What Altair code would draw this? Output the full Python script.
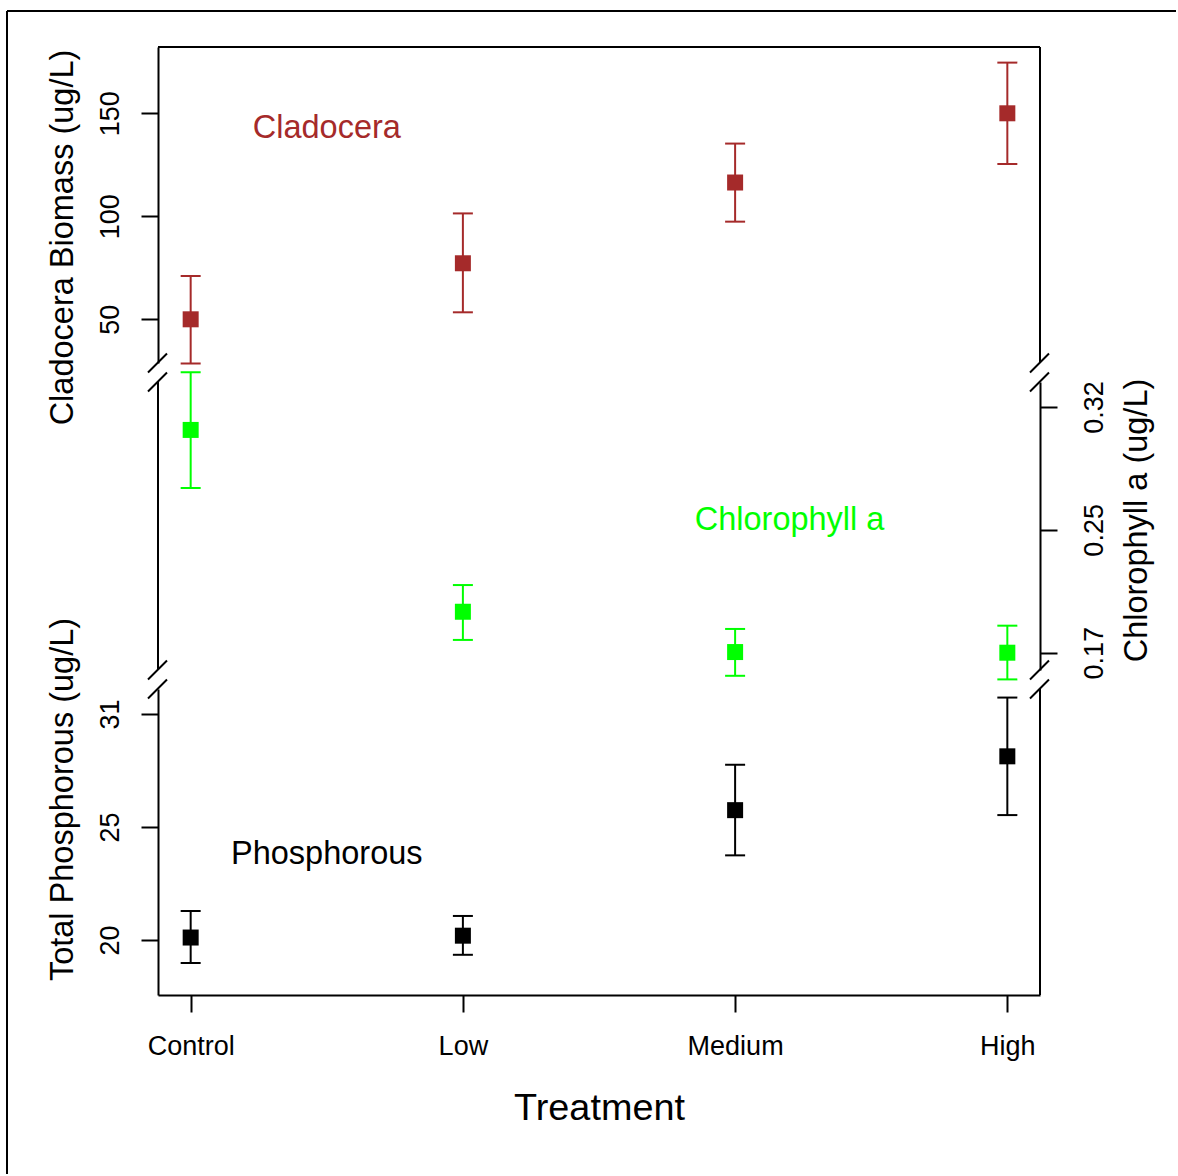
import json
import altair as alt
import pandas as pd

# ---------------- data ----------------
categories = ["Control", "Low", "Medium", "High"]

clado_mean = [50.0, 77.2, 116.4, 150.0]
clado_lo = [28.5, 53.4, 97.4, 125.4]
clado_hi = [71.0, 101.4, 135.3, 174.6]

chl_mean = [0.306, 0.195, 0.1704, 0.170]
chl_lo = [0.2706, 0.1778, 0.1559, 0.1537]
chl_hi = [0.3412, 0.2113, 0.1845, 0.1865]

tp_mean = [20.12, 20.21, 26.32, 28.94]
tp_lo = [18.88, 19.28, 24.12, 26.08]
tp_hi = [21.41, 21.17, 28.53, 31.80]

clado_ticks = [50, 100, 150]
clado_tick_labels = ["50", "100", "150"]
chl_ticks = [0.17, 0.245, 0.32]
chl_tick_labels = ["0.17", "0.25", "0.32"]
tp_ticks = [20, 25.5, 31]
tp_tick_labels = ["20", "25", "31"]

ann_text = ["Cladocera", "Chlorophyll a", "Phosphorous"]
ann_x = [1.5, 3.2, 1.5]
ann_y = [143, 0.251, 24.2]

df = pd.DataFrame({
    "pos": list(range(1, len(categories) + 1)),
    "treatment": categories,
    "clado_mean": clado_mean, "clado_lo": clado_lo, "clado_hi": clado_hi,
    "chl_mean": chl_mean, "chl_lo": chl_lo, "chl_hi": chl_hi,
    "tp_mean": tp_mean, "tp_lo": tp_lo, "tp_hi": tp_hi,
})

# ---------------- layout / style ----------------
FONT = "Liberation Sans"
W = 882
H_TOP, H_MID, H_BOT = 316, 288, 306
GAP = 19
BROWN, GREEN, BLACK = "#A52A2A", "#00FF00", "#000000"

xscale = alt.Scale(domain=[0.88, 4.12], nice=False, zero=False)


def label_expr(values, labels):
    return "%s[indexof(%s, datum.value)]" % (json.dumps(labels), json.dumps(values))


def axis(**kw):
    base = dict(
        grid=False, labelFont=FONT, labelFontSize=27, labelColor=BLACK,
        titleFont=FONT, titleFontSize=32.5, titleFontWeight="normal", titleColor=BLACK,
        tickSize=17, tickWidth=2, tickColor=BLACK,
        domainColor=BLACK, domainWidth=2, labelOverlap=False, labelFlush=False,
    )
    base.update(kw)
    return alt.Axis(**base)


x_axis_bottom = axis(
    values=list(range(1, len(categories) + 1)),
    labelExpr="%s[datum.value - 1]" % json.dumps(categories),
    labelBaseline="alphabetic", labelPadding=42,
    title="Treatment", titleFontSize=37.8, titleY=124, titleBaseline="alphabetic",
)

top_axis = axis(
    orient="left", values=clado_ticks, labelExpr=label_expr(clado_ticks, clado_tick_labels),
    labelAngle=270, labelAlign="center", labelBaseline="alphabetic", labelPadding=23,
    title="Cladocera Biomass (ug/L)", titleAngle=270, titleAlign="center",
    titleBaseline="alphabetic", titleX=-86, titleY=190,
)
mid_axis = axis(
    orient="right", values=chl_ticks, labelExpr=label_expr(chl_ticks, chl_tick_labels),
    labelAngle=270, labelAlign="center", labelBaseline="alphabetic", labelPadding=45,
    title="Chlorophyll a (ug/L)", titleAngle=270, titleAlign="center",
    titleBaseline="alphabetic", titleX=106, titleY=138,
)
bot_axis = axis(
    orient="left", values=tp_ticks, labelExpr=label_expr(tp_ticks, tp_tick_labels),
    labelAngle=270, labelAlign="center", labelBaseline="alphabetic", labelPadding=23,
    title="Total Phosphorous (ug/L)", titleAngle=270, titleAlign="center",
    titleBaseline="alphabetic", titleX=-86, titleY=110,
)

top_scale = alt.Scale(domain=[28.79, 182.18], nice=False, zero=False)
mid_scale = alt.Scale(domain=[0.15944, 0.33526], nice=False, zero=False)
bot_scale = alt.Scale(domain=[17.323, 32.217], nice=False, zero=False)

dummy = pd.DataFrame({"d": [0]})


def seg(x1, y1, x2, y2, sw=2):
    return alt.Chart(dummy).mark_rule(color=BLACK, strokeWidth=sw).encode(
        x=alt.value(x1), y=alt.value(y1), x2=alt.value(x2), y2=alt.value(y2)
    )


def slashes(xc, yc):
    return [seg(xc - 10, yc + 9.5, xc + 9, yc - 9.5)]


def panel(prefix, color, yscale, yaxis, xaxis, ann_i):
    base = alt.Chart(df)
    X = alt.X("pos:Q", scale=xscale, axis=xaxis)

    def Y(f):
        return alt.Y(f"{prefix}_{f}:Q", scale=yscale, axis=yaxis)

    bars = base.mark_rule(color=color, strokeWidth=2).encode(
        x=X, y=Y("lo"), y2=alt.Y2(f"{prefix}_hi:Q"))
    cap_lo = base.mark_tick(orient="horizontal", size=20, thickness=2, color=color, opacity=1).encode(
        x=X, y=Y("lo"))
    cap_hi = base.mark_tick(orient="horizontal", size=20, thickness=2, color=color, opacity=1).encode(
        x=X, y=Y("hi"))
    pts = base.mark_square(size=256, color=color, opacity=1, filled=True).encode(
        x=X, y=Y("mean"))
    tdf = pd.DataFrame({"x": [ann_x[ann_i]], "y": [ann_y[ann_i]], "t": [ann_text[ann_i]]})
    txt = alt.Chart(tdf).mark_text(font=FONT, fontSize=32.5, color=color, align="center",
                                   baseline="middle").encode(
        x=alt.X("x:Q", scale=xscale, axis=xaxis),
        y=alt.Y("y:Q", scale=yscale, axis=yaxis),
        text="t:N")
    return [bars, cap_lo, cap_hi, pts, txt]


# top panel: Cladocera
top_layers = panel("clado", BROWN, top_scale, top_axis, None, 0)
top_layers += [
    seg(0, 0, W, 0),            # top edge of plot box
    seg(W, 0, W, H_TOP),        # right edge
    seg(-151, -36, 1018, -36),  # outer frame top
    seg(-151, -36, -151, 1127),  # outer frame left
]
for xc in (0, W):
    top_layers += slashes(xc, H_TOP) + slashes(xc, H_TOP + GAP)
top = alt.layer(*top_layers).properties(width=W, height=H_TOP)

# middle panel: Chlorophyll a
mid_layers = panel("chl", GREEN, mid_scale, mid_axis, None, 1)
mid_layers += [seg(0, 0, 0, H_MID)]
for xc in (0, W):
    mid_layers += slashes(xc, H_MID) + slashes(xc, H_MID + GAP)
mid = alt.layer(*mid_layers).properties(width=W, height=H_MID)

# bottom panel: Phosphorous
bot_layers = panel("tp", BLACK, bot_scale, bot_axis, x_axis_bottom, 2)
bot_layers += [seg(W, 0, W, H_BOT)]
bot = alt.layer(*bot_layers).properties(width=W, height=H_BOT)

chart = alt.vconcat(top, mid, bot, spacing=GAP, bounds="flush").properties(
    padding={"left": 6, "top": 10, "right": 0, "bottom": 0},
    background="white",
).configure_view(stroke=None)

chart.save("out.html", embed_options={"renderer": "svg", "actions": False})
